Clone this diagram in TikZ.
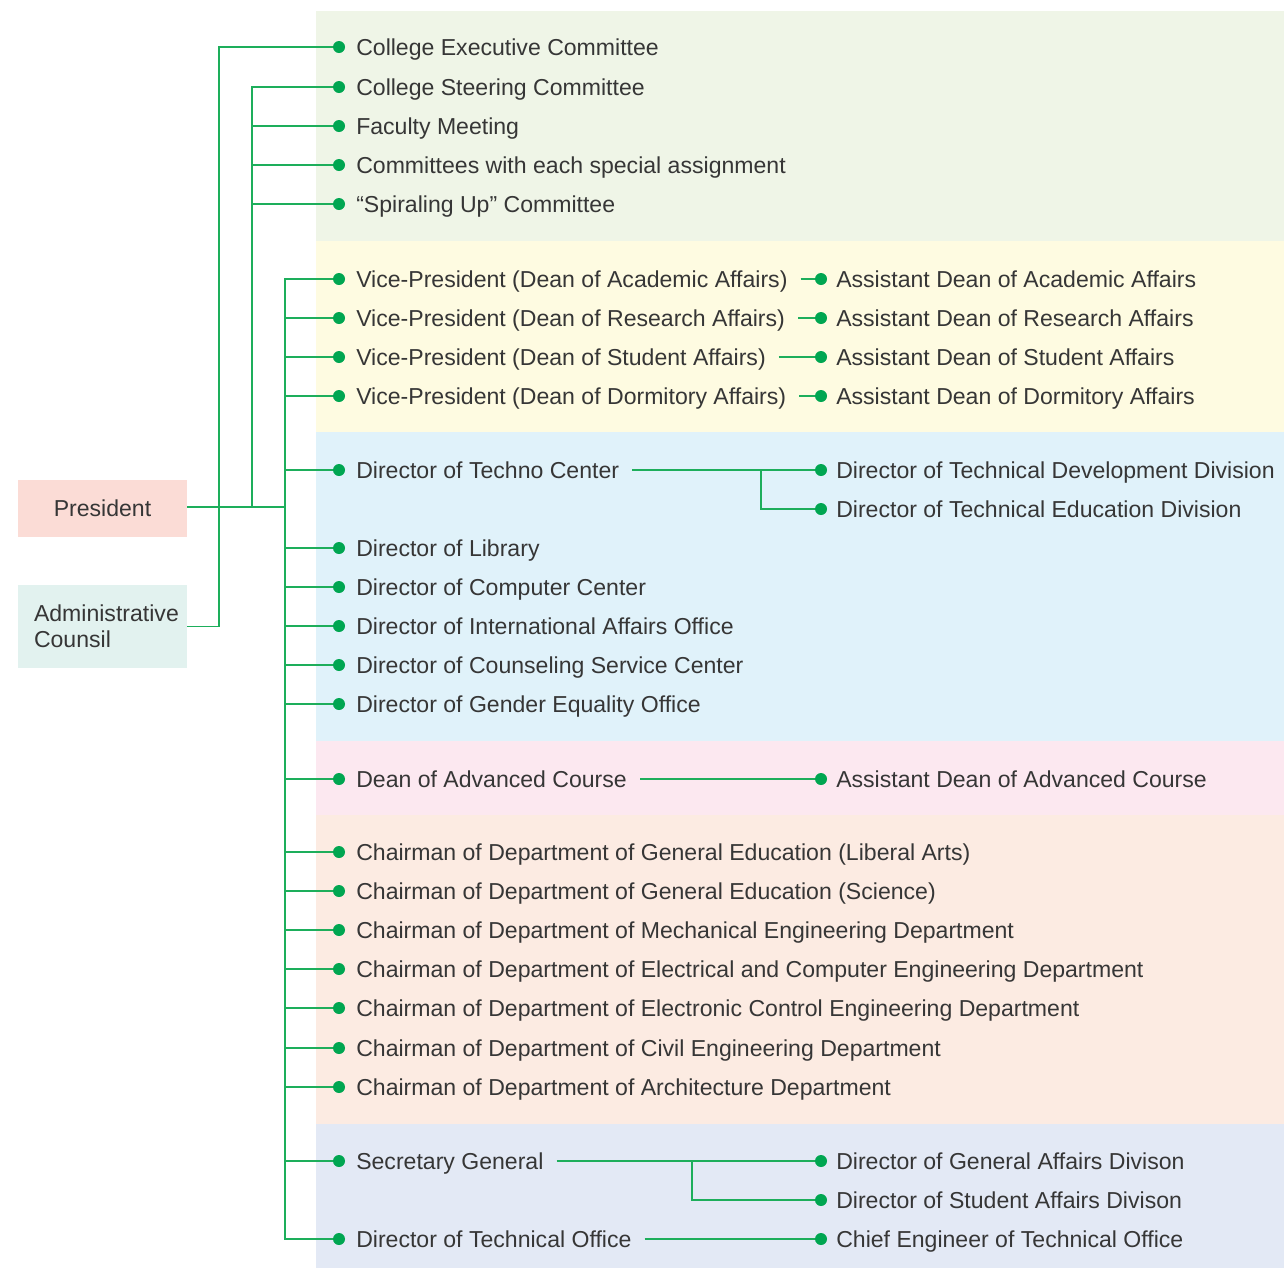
\documentclass[tikz,border=0pt]{standalone}
\usepackage{fontspec}
\setmainfont{Liberation Sans}
\definecolor{lineg}{HTML}{1DAE5B}
\definecolor{dotg}{HTML}{00A651}
\definecolor{txt}{HTML}{363636}
\definecolor{bgG}{HTML}{EFF5E7}
\definecolor{bgY}{HTML}{FEFBE1}
\definecolor{bgB}{HTML}{E0F2FA}
\definecolor{bgP}{HTML}{FCE8F0}
\definecolor{bgO}{HTML}{FCEBE2}
\definecolor{bgL}{HTML}{E3E9F5}
\definecolor{presC}{HTML}{FBDCD6}
\definecolor{admC}{HTML}{E2F2EF}
\begin{document}
\begin{tikzpicture}[x=0.75pt,y=-0.75pt,
  conn/.style={draw=lineg,line width=1pt},
  lbl/.style={anchor=base west,inner xsep=9.75pt,inner ysep=0pt,text=txt,font=\fontsize{17.3}{20}\selectfont},
  rlbl/.style={anchor=base west,inner sep=0pt,text=txt,font=\fontsize{17.3}{20}\selectfont},
  dotm/.style={fill=dotg}]
\useasboundingbox (0,0) rectangle (1284,1268);
% bands
\fill[bgG] (316,11) rectangle (1284,241);
\fill[bgY] (316,241) rectangle (1284,432);
\fill[bgB] (316,432) rectangle (1284,741);
\fill[bgP] (316,741) rectangle (1284,815);
\fill[bgO] (316,815) rectangle (1284,1124);
\fill[bgL] (316,1124) rectangle (1284,1268);
% boxes
\node[fill=presC,minimum width=126.75pt,minimum height=42.75pt,inner sep=0pt,text=txt,font=\fontsize{17.3}{20}\selectfont] (pres) at (102.5,508.5) {President};
\node[fill=admC,minimum width=126.75pt,minimum height=62.25pt,inner xsep=12pt,inner ysep=0pt,text width=102.75pt,align=left,text=txt,font=\fontsize{17.3}{19.5}\selectfont] (adm) at (102.5,626.5) {\mbox{Administrative}\\Counsil};
% left labels
\foreach \n/\y/\t in {
 1/47/{College Executive Committee},
 2/87/{College Steering Committee},
 3/126/{Faculty Meeting},
 4/165/{Committees with each special assignment},
 5/204/{“Spiraling Up” Committee},
 6/279/{Vice-President (Dean of Academic Affairs)},
 7/318/{Vice-President (Dean of Research Affairs)},
 8/357/{Vice-President (Dean of Student Affairs)},
 9/396/{Vice-President (Dean of Dormitory Affairs)},
 10/470/{Director of Techno Center},
 11/548/{Director of Library},
 12/587/{Director of Computer Center},
 13/626/{Director of International Affairs Office},
 14/665/{Director of Counseling Service Center},
 15/704/{Director of Gender Equality Office},
 16/779/{Dean of Advanced Course},
 17/852/{Chairman of Department of General Education (Liberal Arts)},
 18/891/{Chairman of Department of General Education (Science)},
 19/930/{Chairman of Department of Mechanical Engineering Department},
 20/969/{Chairman of Department of Electrical and Computer Engineering Department},
 21/1008/{Chairman of Department of Electronic Control Engineering Department},
 22/1048/{Chairman of Department of Civil Engineering Department},
 23/1087/{Chairman of Department of Architecture Department},
 24/1161/{Secretary General},
 25/1239/{Director of Technical Office}}{
  \coordinate (L\n) at (339,\y);
  \node[lbl] (T\n) at (343,{\y+8}) {\t};
}
% right labels
\foreach \n/\y/\t in {
 1/279/{Assistant Dean of Academic Affairs},
 2/318/{Assistant Dean of Research Affairs},
 3/357/{Assistant Dean of Student Affairs},
 4/396/{Assistant Dean of Dormitory Affairs},
 5/470/{Director of Technical Development Division},
 6/509/{Director of Technical Education Division},
 7/779/{Assistant Dean of Advanced Course},
 8/1161/{Director of General Affairs Divison},
 9/1200/{Director of Student Affairs Divison},
 10/1239/{Chief Engineer of Technical Office}}{
  \coordinate (R\n) at (821,\y);
  \node[rlbl] (S\n) at (836,{\y+8}) {\t};
}
% junction coordinates
\coordinate (ja) at (219,626.5);
\coordinate (jb) at (252,507);
\coordinate (jc) at (285,507);
\coordinate (jt) at (761,470);
\coordinate (js) at (692,1161);
% trunks
\draw[conn] (pres.east |- jc) -- (jc);
\draw[conn] (adm.east) -- (ja) |- (L1);
\draw[conn] (jb) |- (L2);
\foreach \n in {3,4,5} \draw[conn] (jb |- L\n) -- (L\n);
\draw[conn] (L6) -| (jc) |- (L25);
\foreach \n in {7,...,24} \draw[conn] (jc |- L\n) -- (L\n);
% right connectors
\foreach \a/\b in {6/1,7/2,8/3,9/4,10/5,16/7,24/8,25/10}
  \draw[conn] (T\a.east |- R\b) -- (R\b);
\draw[conn] (jt) |- (R6);
\draw[conn] (js) |- (R9);
% dots
\foreach \n in {1,...,25} \fill[dotm] (L\n) circle[radius=4.5pt];
\foreach \n in {1,...,10} \fill[dotm] (R\n) circle[radius=4.5pt];
\end{tikzpicture}
\end{document}
